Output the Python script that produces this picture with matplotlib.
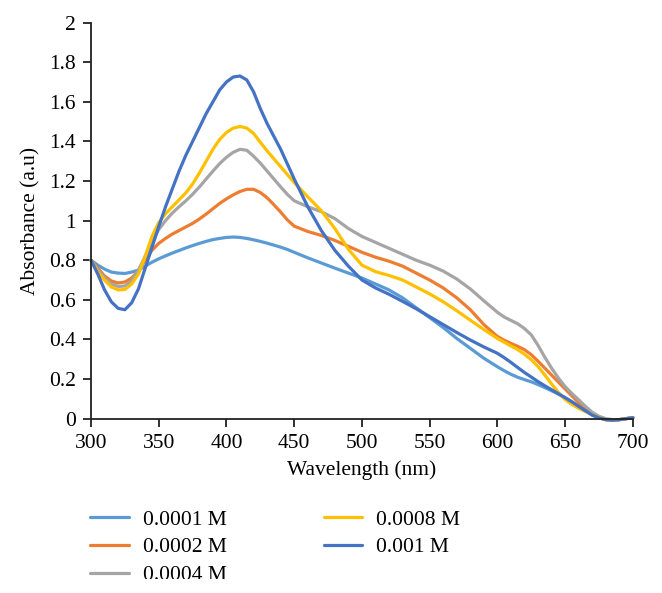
import matplotlib
matplotlib.use("Agg")
import matplotlib.pyplot as plt
from matplotlib.ticker import FuncFormatter, MultipleLocator
from matplotlib.patches import Rectangle

plt.rcParams['font.family'] = ['Liberation Serif', 'DejaVu Serif']

wavelength = [300, 305, 310, 315, 320, 325, 330, 335, 340, 345,
              350, 355, 360, 365, 370, 375, 380, 385, 390, 395,
              400, 405, 410, 415, 420, 425, 430, 435, 440, 445,
              450, 460, 470, 480, 490, 500, 510, 520, 530, 540,
              550, 560, 570, 580, 590, 600, 605, 610, 615, 620,
              625, 630, 635, 640, 645, 650, 655, 660, 665, 670,
              675, 680, 685, 690, 695, 700]

a_0001 = [0.80, 0.775, 0.755, 0.74, 0.735, 0.733, 0.74, 0.75, 0.77, 0.79,
          0.807, 0.822, 0.836, 0.849, 0.862, 0.874, 0.885, 0.895, 0.904, 0.91,
          0.915, 0.917, 0.915, 0.91, 0.903, 0.895, 0.886, 0.876, 0.866, 0.854,
          0.84, 0.812, 0.786, 0.76, 0.735, 0.71, 0.68, 0.65, 0.61, 0.56,
          0.51, 0.46, 0.405, 0.355, 0.305, 0.262, 0.242, 0.224, 0.209, 0.197,
          0.186, 0.172, 0.157, 0.141, 0.124, 0.105, 0.085, 0.062, 0.04, 0.018,
          0.004, -0.005, -0.008, -0.005, 0.0, 0.005]

a_0002 = [0.80, 0.76, 0.72, 0.695, 0.685, 0.69, 0.71, 0.745, 0.80, 0.85,
          0.885, 0.91, 0.932, 0.95, 0.968, 0.986, 1.008, 1.033, 1.06, 1.087,
          1.11, 1.13, 1.147, 1.158, 1.158, 1.142, 1.115, 1.08, 1.043, 1.003,
          0.972, 0.945, 0.925, 0.90, 0.87, 0.84, 0.815, 0.795, 0.77, 0.735,
          0.70, 0.66, 0.61, 0.55, 0.475, 0.415, 0.396, 0.38, 0.365, 0.348,
          0.323, 0.29, 0.255, 0.22, 0.185, 0.15, 0.115, 0.08, 0.048, 0.022,
          0.006, -0.005, -0.008, -0.005, 0.0, 0.005]

a_0004 = [0.80, 0.75, 0.71, 0.68, 0.667, 0.67, 0.695, 0.75, 0.82, 0.895,
          0.955, 1.0, 1.038, 1.07, 1.1, 1.133, 1.17, 1.21, 1.25, 1.288,
          1.32, 1.345, 1.36, 1.355, 1.325, 1.29, 1.25, 1.21, 1.17, 1.132,
          1.10, 1.07, 1.045, 1.01, 0.96, 0.92, 0.89, 0.86, 0.83, 0.80,
          0.775, 0.745, 0.705, 0.655, 0.595, 0.537, 0.513, 0.496, 0.479, 0.455,
          0.423, 0.37, 0.31, 0.255, 0.205, 0.162, 0.127, 0.095, 0.062, 0.032,
          0.012, 0.0, -0.005, -0.005, 0.0, 0.005]

a_0008 = [0.80, 0.74, 0.70, 0.665, 0.65, 0.652, 0.68, 0.73, 0.82, 0.92,
          0.99, 1.035, 1.07, 1.105, 1.14, 1.185, 1.24, 1.30, 1.36, 1.41,
          1.445, 1.467, 1.475, 1.467, 1.44, 1.395, 1.352, 1.312, 1.272, 1.232,
          1.192, 1.12, 1.05, 0.96, 0.855, 0.775, 0.742, 0.723, 0.70, 0.665,
          0.63, 0.59, 0.545, 0.497, 0.45, 0.405, 0.386, 0.367, 0.349, 0.325,
          0.298, 0.263, 0.22, 0.175, 0.132, 0.097, 0.072, 0.052, 0.036, 0.02,
          0.006, -0.005, -0.008, -0.005, 0.0, 0.005]

a_001 = [0.80, 0.73, 0.65, 0.59, 0.557, 0.55, 0.585, 0.655, 0.76, 0.865,
         0.97, 1.07, 1.16, 1.25, 1.33, 1.40, 1.47, 1.54, 1.60, 1.66,
         1.70, 1.725, 1.73, 1.71, 1.65, 1.565, 1.49, 1.425, 1.36, 1.285,
         1.21, 1.07, 0.95, 0.85, 0.77, 0.70, 0.66, 0.628, 0.592, 0.555,
         0.515, 0.475, 0.435, 0.397, 0.362, 0.33, 0.308, 0.284, 0.258, 0.233,
         0.21, 0.187, 0.166, 0.146, 0.126, 0.106, 0.085, 0.062, 0.04, 0.018,
         0.004, -0.005, -0.008, -0.005, 0.0, 0.005]

labels = ['0.0001 M', '0.0002 M', '0.0004 M', '0.0008 M', '0.001 M']
colors = ['#5B9BD5', '#ED7D31', '#A5A5A5', '#FFC000', '#4472C4']
series = [a_0001, a_0002, a_0004, a_0008, a_001]

fig = plt.figure(figsize=(6.62, 5.93), dpi=100)
ax = fig.add_axes([0.1375, 0.294, 0.8185, 0.668])

for ys, lab, col in zip(series, labels, colors):
    ax.plot(wavelength, ys, color=col, lw=2.3, label=lab, clip_on=False,
            solid_joinstyle='round', solid_capstyle='round')

ax.set_xlim(300, 700)
ax.set_ylim(0, 2)
ax.xaxis.set_major_locator(MultipleLocator(50))
ax.yaxis.set_major_locator(MultipleLocator(0.2))
ax.yaxis.set_major_formatter(FuncFormatter(lambda v, p: '%g' % round(v, 1)))

for s in ['top', 'right']:
    ax.spines[s].set_visible(False)
for s in ['left', 'bottom']:
    ax.spines[s].set_color('#222222')
    ax.spines[s].set_linewidth(1.3)

ax.tick_params(axis='both', direction='out', length=6, width=1.3,
               color='#222222', labelsize=15.5, pad=5)
ax.set_xlabel('Wavelength (nm)', fontsize=15.5, labelpad=5)
ax.set_ylabel('Absorbance (a.u)', fontsize=15.5, labelpad=6)

fig.legend(loc='upper left', bbox_to_anchor=(0.123, 1 - 501 / 593), ncol=2,
           frameon=False, fontsize=15.5, handlelength=1.8, handletextpad=0.65,
           columnspacing=4.5, labelspacing=0.36, borderaxespad=0)

fig.patches.append(Rectangle((0, 0), 1, (593 - 579) / 593, transform=fig.transFigure,
                             facecolor='white', edgecolor='none', zorder=10))

fig.savefig('out.png', dpi=100)
